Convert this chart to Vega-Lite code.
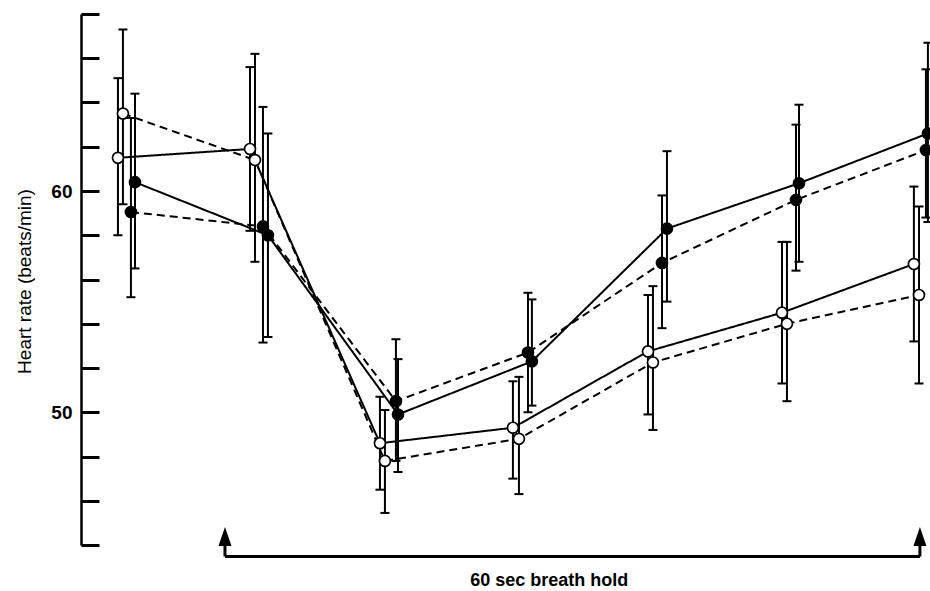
{
  "$schema": "https://vega.github.io/schema/vega-lite/v6.json",
  "autosize": {"type": "none"},
  "padding": {"left": 81, "top": 14, "right": 0, "bottom": 46},
  "width": 849,
  "height": 531,
  "background": "white",
  "config": {"view": {"stroke": null}},
  "datasets": {
    "hr": [
      {"series": "A", "marker": "open", "line": "solid", "t": -9.24, "hr": 61.5, "lo": 58.0, "hi": 65.1},
      {"series": "A", "marker": "open", "line": "solid", "t": 2.16, "hr": 61.9, "lo": 58.2, "hi": 65.6},
      {"series": "A", "marker": "open", "line": "solid", "t": 13.38, "hr": 48.6, "lo": 46.5, "hi": 50.7},
      {"series": "A", "marker": "open", "line": "solid", "t": 24.86, "hr": 49.3, "lo": 47.0, "hi": 51.4},
      {"series": "A", "marker": "open", "line": "solid", "t": 36.52, "hr": 52.75, "lo": 49.9, "hi": 55.3},
      {"series": "A", "marker": "open", "line": "solid", "t": 48.09, "hr": 54.5, "lo": 51.3, "hi": 57.7},
      {"series": "A", "marker": "open", "line": "solid", "t": 59.48, "hr": 56.7, "lo": 53.2, "hi": 60.2},
      {"series": "B", "marker": "open", "line": "dashed", "t": -8.81, "hr": 63.5, "lo": 59.4, "hi": 67.3},
      {"series": "B", "marker": "open", "line": "dashed", "t": 2.59, "hr": 61.4, "lo": 56.8, "hi": 66.2},
      {"series": "B", "marker": "open", "line": "dashed", "t": 13.81, "hr": 47.8, "lo": 45.45, "hi": 50.1},
      {"series": "B", "marker": "open", "line": "dashed", "t": 25.38, "hr": 48.8, "lo": 46.3, "hi": 51.6},
      {"series": "B", "marker": "open", "line": "dashed", "t": 36.95, "hr": 52.25, "lo": 49.2, "hi": 55.7},
      {"series": "B", "marker": "open", "line": "dashed", "t": 48.52, "hr": 54.0, "lo": 50.5, "hi": 57.7},
      {"series": "B", "marker": "open", "line": "dashed", "t": 59.92, "hr": 55.3, "lo": 51.3, "hi": 59.3},
      {"series": "C", "marker": "filled", "line": "solid", "t": -7.77, "hr": 60.4, "lo": 56.5, "hi": 64.4},
      {"series": "C", "marker": "filled", "line": "solid", "t": 3.71, "hr": 58.0, "lo": 53.4, "hi": 62.6},
      {"series": "C", "marker": "filled", "line": "solid", "t": 14.94, "hr": 49.9, "lo": 47.3, "hi": 52.4},
      {"series": "C", "marker": "filled", "line": "solid", "t": 26.5, "hr": 52.3, "lo": 50.3, "hi": 55.1},
      {"series": "C", "marker": "filled", "line": "solid", "t": 38.16, "hr": 58.3, "lo": 55.0, "hi": 61.8},
      {"series": "C", "marker": "filled", "line": "solid", "t": 49.56, "hr": 60.35, "lo": 56.8, "hi": 63.9},
      {"series": "C", "marker": "filled", "line": "solid", "t": 60.69, "hr": 62.6, "lo": 58.6, "hi": 66.7},
      {"series": "D", "marker": "filled", "line": "dashed", "t": -8.12, "hr": 59.05, "lo": 55.2, "hi": 63.3},
      {"series": "D", "marker": "filled", "line": "dashed", "t": 3.28, "hr": 58.4, "lo": 53.15, "hi": 63.8},
      {"series": "D", "marker": "filled", "line": "dashed", "t": 14.76, "hr": 50.5, "lo": 47.8, "hi": 53.3},
      {"series": "D", "marker": "filled", "line": "dashed", "t": 26.16, "hr": 52.7, "lo": 50.0, "hi": 55.4},
      {"series": "D", "marker": "filled", "line": "dashed", "t": 37.73, "hr": 56.75, "lo": 53.8, "hi": 59.8},
      {"series": "D", "marker": "filled", "line": "dashed", "t": 49.3, "hr": 59.6, "lo": 56.4, "hi": 63.0},
      {"series": "D", "marker": "filled", "line": "dashed", "t": 60.52, "hr": 61.85, "lo": 58.8, "hi": 65.5}
    ],
    "bracket": [
      {"t0": 0, "t1": 60, "y": 43.48}
    ],
    "arrows": [
      {"t": 0, "base": 43.48, "top": 44.0, "head": 44.36},
      {"t": 60, "base": 43.48, "top": 44.0, "head": 44.36}
    ],
    "label": [
      {"t": 28.0, "y": 42.37, "text": "60 sec breath hold"}
    ],
    "ytitle": [
      {"t": -16.75, "y": 55.91, "text": "Heart rate (beats/min)"}
    ]
  },
  "layer": [
    {
      "data": {"name": "hr"},
      "mark": {"type": "line", "strokeWidth": 2, "color": "#000"},
      "encoding": {
        "x": {"field": "t", "type": "quantitative", "scale": {"domain": [-12.43, 60.87], "nice": false, "zero": false}, "axis": null},
        "y": {
          "field": "hr", "type": "quantitative",
          "title": null,
          "scale": {"domain": [44, 68], "nice": false, "zero": false},
          "axis": {
            "title": null,
            "values": [44, 46, 48, 50, 52, 54, 56, 58, 60, 62, 64, 66, 68],
            "labelExpr": "datum.value == 50 || datum.value == 60 ? datum.label : ''",
            "grid": false,
            "tickSize": -18,
            "tickWidth": 3,
            "tickColor": "#000",
            "domainWidth": 2.5,
            "domainColor": "#000",
            "labelFont": "Liberation Sans",
            "labelFontSize": 19,
            "labelFontWeight": "bold",
            "labelColor": "#000",
            "labelPadding": 27,
            "labelOverlap": false,
            "labelBound": false,
            "labelFlush": false
          }
        },
        "detail": {"field": "series", "type": "nominal"},
        "strokeDash": {"field": "line", "type": "nominal", "scale": {"domain": ["solid", "dashed"], "range": [[1, 0], [8, 5]]}, "legend": null}
      }
    },
    {
      "data": {"name": "hr"},
      "mark": {"type": "rule", "strokeWidth": 2, "color": "#000"},
      "encoding": {
        "x": {"field": "t", "type": "quantitative"},
        "y": {"field": "lo", "type": "quantitative", "title": null},
        "y2": {"field": "hi"}
      }
    },
    {
      "data": {"name": "hr"},
      "mark": {"type": "tick", "orient": "horizontal", "size": 9, "thickness": 2, "color": "#000", "opacity": 1},
      "encoding": {
        "x": {"field": "t", "type": "quantitative"},
        "y": {"field": "lo", "type": "quantitative", "title": null}
      }
    },
    {
      "data": {"name": "hr"},
      "mark": {"type": "tick", "orient": "horizontal", "size": 9, "thickness": 2, "color": "#000", "opacity": 1},
      "encoding": {
        "x": {"field": "t", "type": "quantitative"},
        "y": {"field": "hi", "type": "quantitative", "title": null}
      }
    },
    {
      "data": {"name": "hr"},
      "mark": {"type": "point", "shape": "circle", "filled": true, "size": 120, "stroke": "#000", "strokeWidth": 1.7, "opacity": 1},
      "encoding": {
        "x": {"field": "t", "type": "quantitative"},
        "y": {"field": "hr", "type": "quantitative", "title": null},
        "fill": {"field": "marker", "type": "nominal", "scale": {"domain": ["open", "filled"], "range": ["#ffffff", "#000000"]}, "legend": null}
      }
    },
    {
      "data": {"name": "bracket"},
      "mark": {"type": "rule", "strokeWidth": 3, "color": "#000"},
      "encoding": {
        "x": {"field": "t0", "type": "quantitative"},
        "x2": {"field": "t1"},
        "y": {"field": "y", "type": "quantitative", "title": null}
      }
    },
    {
      "data": {"name": "arrows"},
      "mark": {"type": "rule", "strokeWidth": 3, "color": "#000"},
      "encoding": {
        "x": {"field": "t", "type": "quantitative"},
        "y": {"field": "base", "type": "quantitative", "title": null},
        "y2": {"field": "top"}
      }
    },
    {
      "data": {"name": "arrows"},
      "mark": {"type": "point", "shape": "M0,-1L0.65,0.9L-0.65,0.9Z", "filled": true, "size": 400, "color": "#000", "opacity": 1},
      "encoding": {
        "x": {"field": "t", "type": "quantitative"},
        "y": {"field": "head", "type": "quantitative", "title": null}
      }
    },
    {
      "data": {"name": "label"},
      "mark": {"type": "text", "font": "Liberation Sans", "fontSize": 18, "fontWeight": "bold", "color": "#000", "align": "center", "baseline": "middle"},
      "encoding": {
        "x": {"field": "t", "type": "quantitative"},
        "y": {"field": "y", "type": "quantitative", "title": null},
        "text": {"field": "text", "type": "nominal"}
      }
    },
    {
      "data": {"name": "ytitle"},
      "mark": {"type": "text", "font": "Liberation Sans", "fontSize": 19, "fontWeight": "normal", "color": "#000", "align": "center", "baseline": "alphabetic", "angle": 270},
      "encoding": {
        "x": {"field": "t", "type": "quantitative"},
        "y": {"field": "y", "type": "quantitative", "title": null},
        "text": {"field": "text", "type": "nominal"}
      }
    }
  ]
}
